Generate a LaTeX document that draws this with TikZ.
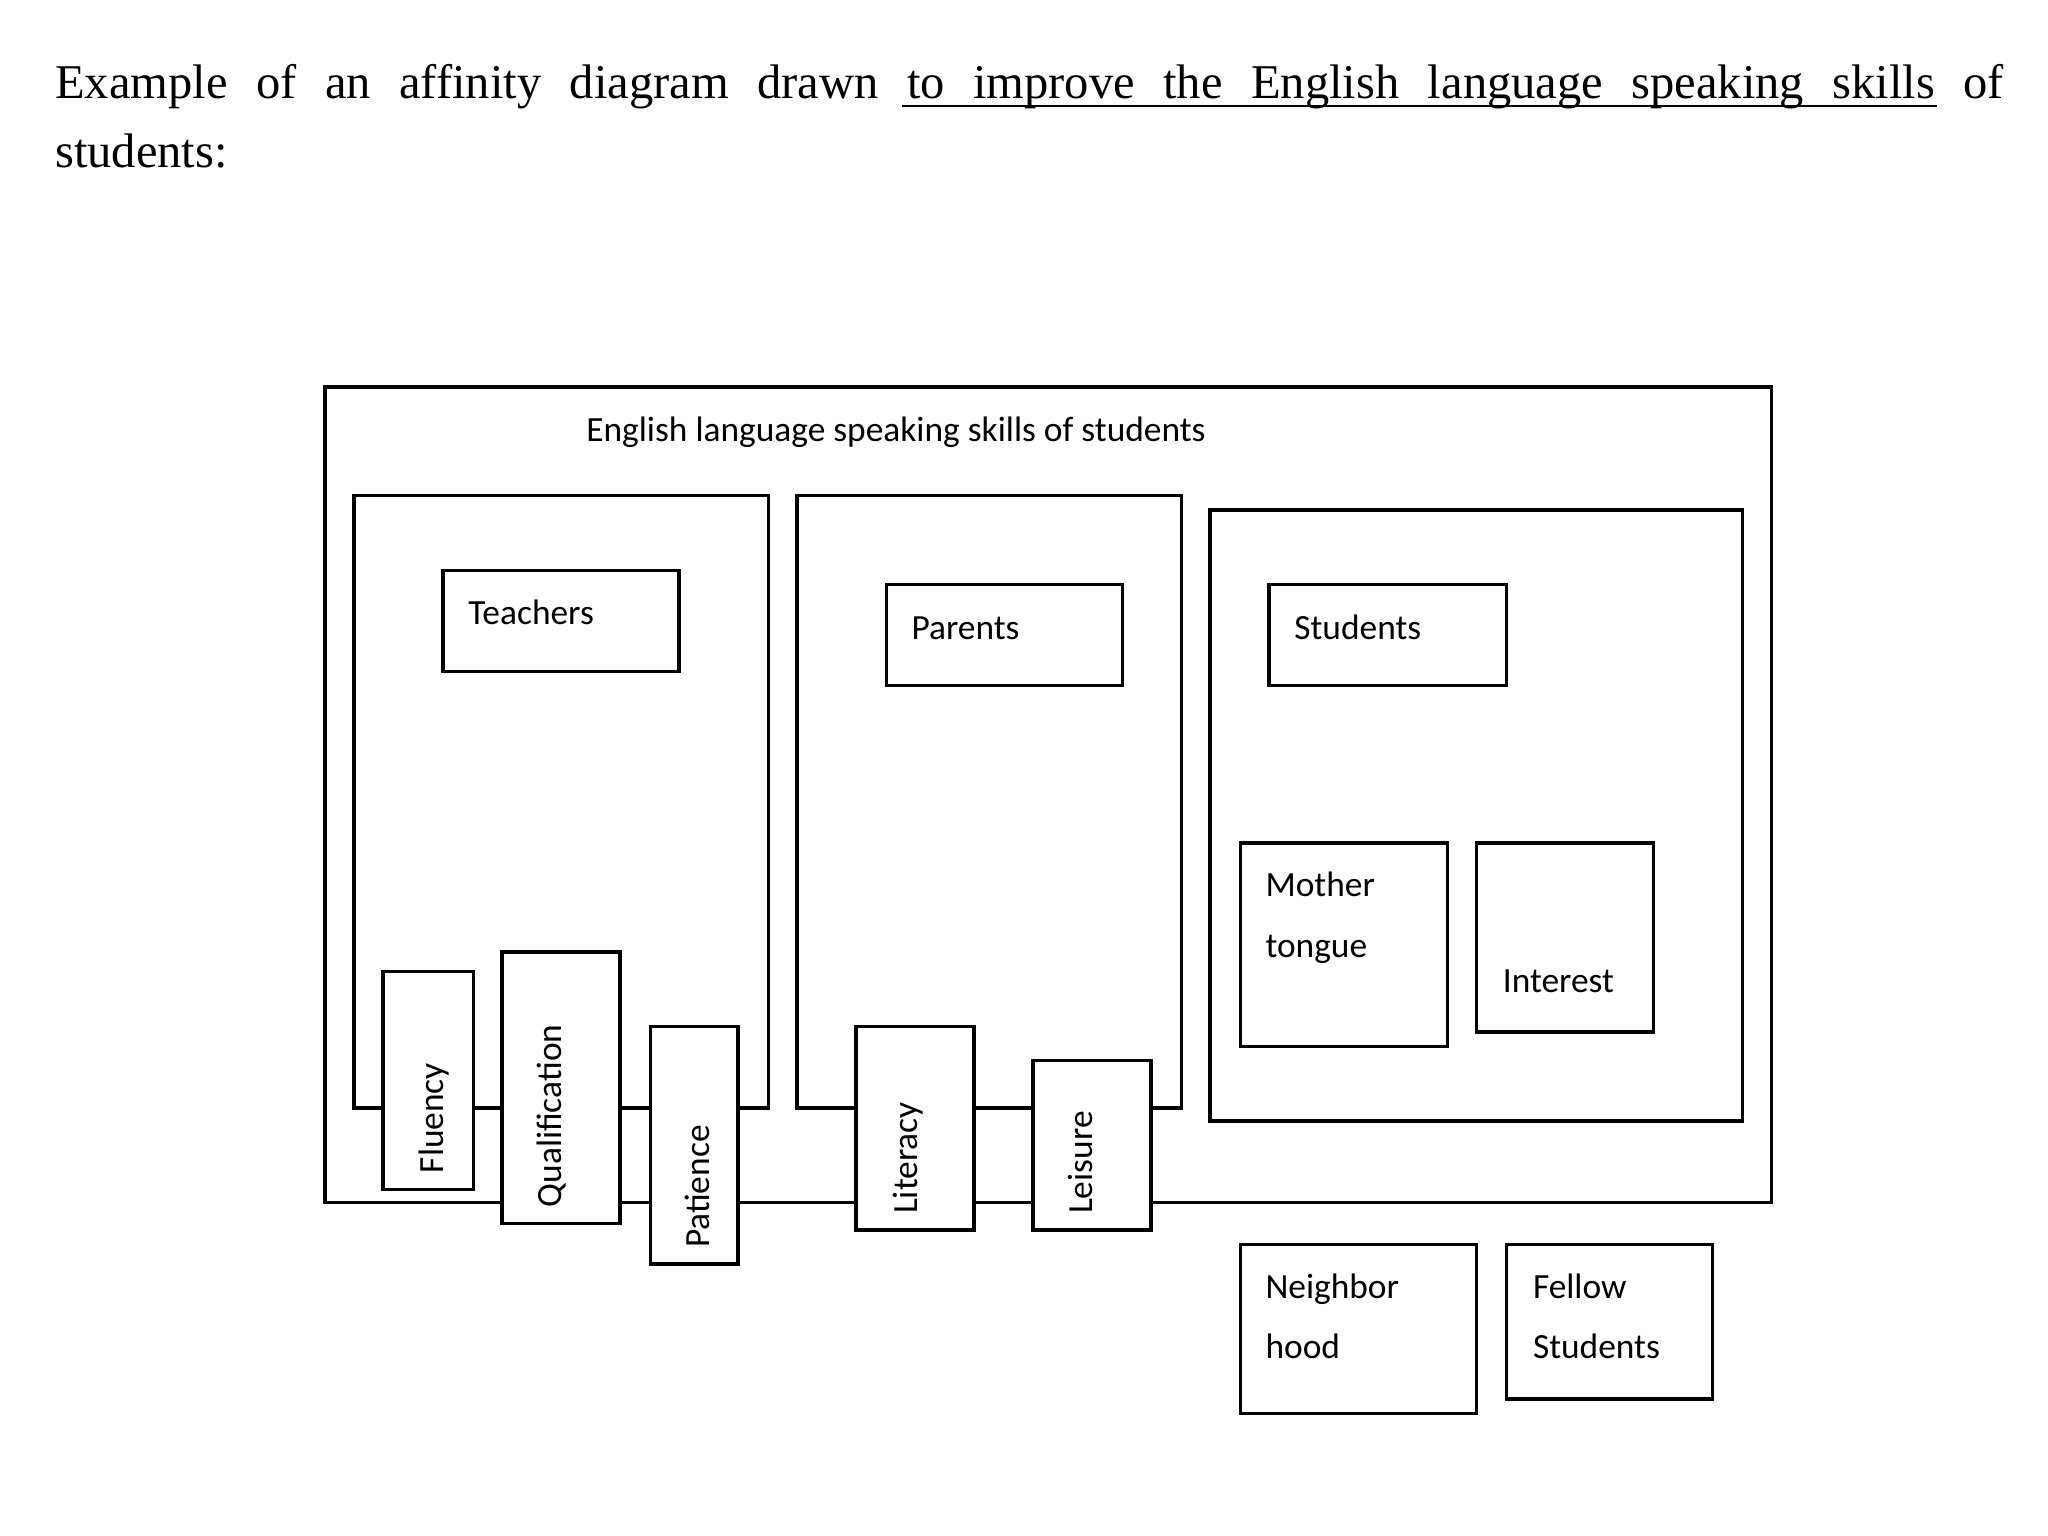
\documentclass[tikz,border=0pt]{standalone}
\usepackage{fontspec}
\setmainfont{Liberation Serif}
\newfontfamily\calib{Carlito}
\begin{document}
\begin{tikzpicture}[x=1pt,y=-1pt,
  bx/.style={draw,line width=2.6pt,fill=white},
  lbl/.style={font=\calib\fontsize{27}{30}\selectfont,anchor=base west,inner sep=0pt},
  vlbl/.style={lbl,rotate=90},
  ttl/.style={font=\fontsize{37}{44}\selectfont,anchor=base west,inner sep=0pt}]
\useasboundingbox (0,0) rectangle (1562,1171);
\node[ttl] (title1) at (42,75) {\hbox to 1486pt{Example\hfill of\hfill an\hfill affinity\hfill diagram\hfill drawn\hfill to\hfill improve\hfill the\hfill English\hfill language\hfill speaking\hfill skills\hfill of}};
\node[ttl] (title2) at (42,128) {students:};
\coordinate (u1) at (688,81); \coordinate (u2) at (1477,81);
\draw[line width=1.8pt] (u1) -- (u2);
\draw[bx] (248,295) rectangle (1351,917);
\node[lbl] (main) at (447,337) {English language speaking skills of students};
\draw[bx] (270,378) rectangle (586,845);
\draw[bx] (608,378) rectangle (901,845);
\draw[bx] (923,389) rectangle (1329,855);
\draw[bx] (338,435) rectangle (518,512); \node[lbl] (t) at (357,476) {Teachers};
\draw[bx] (676,446) rectangle (856,523); \node[lbl] (p) at (695,488) {Parents};
\draw[bx] (968,446) rectangle (1149,523); \node[lbl] (s) at (987,488) {Students};
\draw[bx] (946,643) rectangle (1104,798); \node[lbl] (m1) at (965,684) {Mother}; \node[lbl] (m2) at (965,730) {tongue};
\draw[bx] (1126,643) rectangle (1261,787); \node[lbl] (i) at (1146,757) {Interest};
\draw[bx] (292,741) rectangle (361,907); \node[vlbl] (f) at (338,895) {Fluency};
\draw[bx] (383,726) rectangle (473,933); \node[vlbl] (q) at (428,921) {Qualification};
\draw[bx] (496,783) rectangle (563,964); \node[vlbl] (pa) at (541,952) {Patience};
\draw[bx] (653,783) rectangle (743,938); \node[vlbl] (li) at (700,926) {Literacy};
\draw[bx] (788,809) rectangle (878,938); \node[vlbl] (le) at (833,926) {Leisure};
\draw[bx] (946,949) rectangle (1126,1078); \node[lbl] (n1) at (965,990) {Neighbor}; \node[lbl] (n2) at (965,1036) {hood};
\draw[bx] (1149,949) rectangle (1306,1067); \node[lbl] (fe1) at (1169,990) {Fellow}; \node[lbl] (fe2) at (1169,1036) {Students};
\end{tikzpicture}
\end{document}
